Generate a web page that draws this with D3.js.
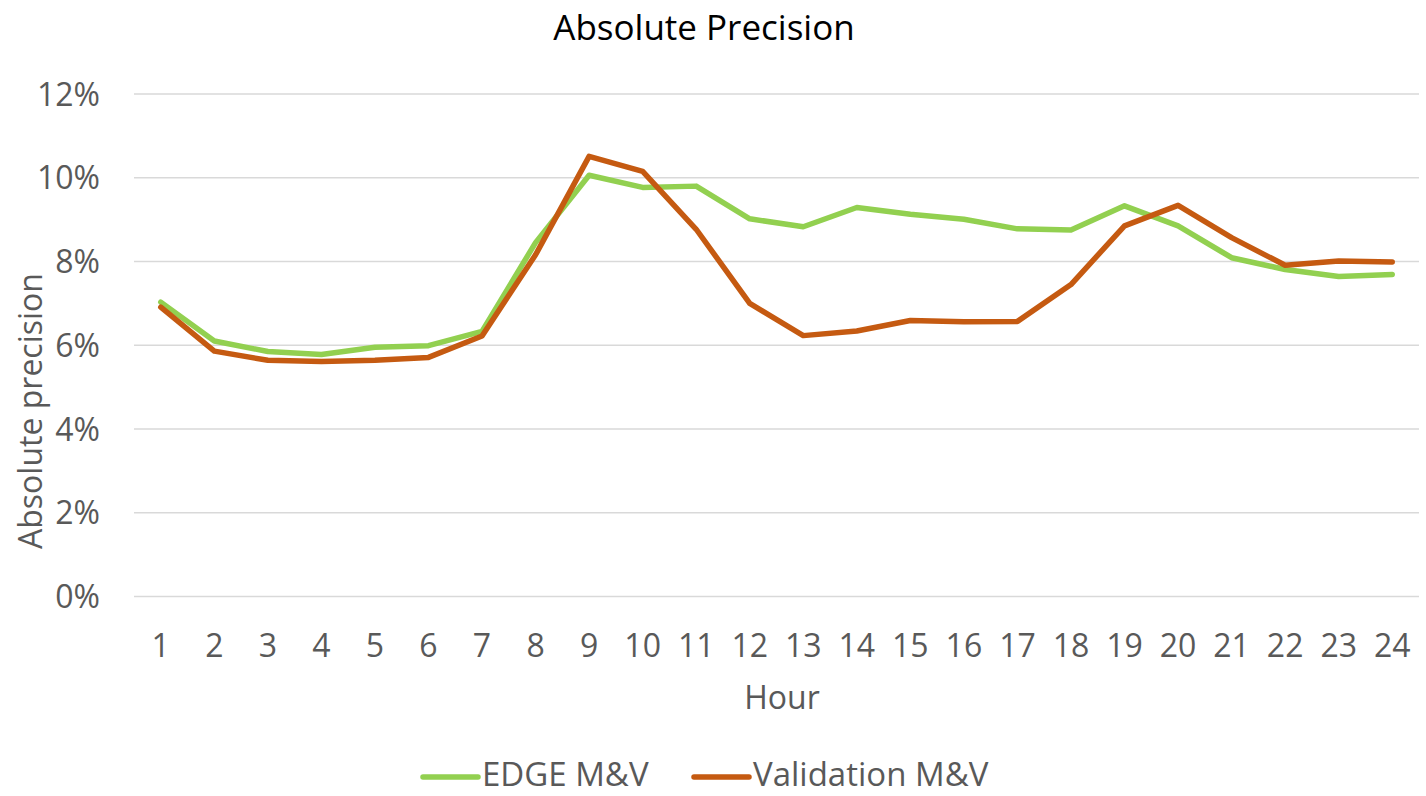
<html>
<head>
<script src="https://d3js.org/d3.v7.min.js"></script>
<style>
  body { margin: 0; background: #fff; }
  svg text { font-family: "Open Sans", "Noto Sans", sans-serif; fill: #595959; }
</style>
</head>
<body>
<script>
// data
var hours = d3.range(1, 25);
var edgeMV = [7.03, 6.10, 5.85, 5.78, 5.95, 5.99, 6.33, 8.45, 10.06, 9.77, 9.80, 9.02,
              8.83, 9.29, 9.13, 9.01, 8.78, 8.75, 9.33, 8.85, 8.09, 7.81, 7.64, 7.69];
var validationMV = [6.91, 5.86, 5.64, 5.61, 5.64, 5.71, 6.22, 8.16, 10.51, 10.15, 8.77, 7.00,
                    6.23, 6.34, 6.59, 6.56, 6.57, 7.45, 8.85, 9.34, 8.57, 7.91, 8.01, 7.99];
var yTicks = [0, 2, 4, 6, 8, 10, 12];
var seriesNames = ["EDGE M&V", "Validation M&V"];
var seriesColors = ["#92D050", "#C55A11"];

var width = 1426, height = 796;

var svg = d3.select("body").append("svg")
    .attr("width", width)
    .attr("height", height);

var x = d3.scaleBand().domain(hours).range([134, 1419]);
var y = d3.scaleLinear().domain([0, 12]).range([596.5, 94]);

// gridlines
svg.append("g")
    .selectAll("line")
    .data(yTicks)
    .enter().append("line")
    .attr("x1", 134).attr("x2", 1419)
    .attr("y1", function(d) { return y(d); })
    .attr("y2", function(d) { return y(d); })
    .attr("stroke", "#d9d9d9")
    .attr("stroke-width", 1.5);

// y tick labels
svg.append("g")
    .selectAll("text")
    .data(yTicks)
    .enter().append("text")
    .attr("x", 100)
    .attr("y", function(d) { return y(d); })
    .attr("dy", "0.36em")
    .attr("text-anchor", "end")
    .style("font-size", "32px")
    .text(function(d) { return d + "%"; });

// x tick labels
svg.append("g")
    .selectAll("text")
    .data(hours)
    .enter().append("text")
    .attr("x", function(d) { return x(d) + x.bandwidth() / 2; })
    .attr("y", 645)
    .attr("dy", "0.36em")
    .attr("text-anchor", "middle")
    .style("font-size", "32px")
    .text(function(d) { return d; });

// lines
var line = d3.line()
    .x(function(d, i) { return x(hours[i]) + x.bandwidth() / 2; })
    .y(function(d) { return y(d); });

[edgeMV, validationMV].forEach(function(s, i) {
  svg.append("path")
      .datum(s)
      .attr("d", line)
      .attr("fill", "none")
      .attr("stroke", seriesColors[i])
      .attr("stroke-width", 5.5)
      .attr("stroke-linejoin", "round")
      .attr("stroke-linecap", "round");
});

// title
svg.append("text")
    .attr("x", 704)
    .attr("y", 40)
    .attr("text-anchor", "middle")
    .style("font-size", "35px")
    .style("fill", "#000")
    .text("Absolute Precision");

// axis titles
svg.append("text")
    .attr("x", 782)
    .attr("y", 697)
    .attr("dy", "0.36em")
    .attr("text-anchor", "middle")
    .style("font-size", "32px")
    .text("Hour");

svg.append("text")
    .attr("transform", "translate(30,411) rotate(-90)")
    .attr("dy", "0.36em")
    .attr("text-anchor", "middle")
    .style("font-size", "32px")
    .text("Absolute precision");

// legend
var legendX = [423, 694];
var lg = svg.append("g").selectAll("g")
    .data(seriesNames)
    .enter().append("g")
    .attr("transform", function(d, i) { return "translate(" + legendX[i] + ",777)"; });

lg.append("line")
    .attr("x1", 0).attr("x2", 55)
    .attr("stroke", function(d, i) { return seriesColors[i]; })
    .attr("stroke-width", 5.5)
    .attr("stroke-linecap", "round");

lg.append("text")
    .attr("x", 59)
    .attr("y", 9)
    .style("font-size", "33px")
    .text(function(d) { return d; });
</script>
</body>
</html>
